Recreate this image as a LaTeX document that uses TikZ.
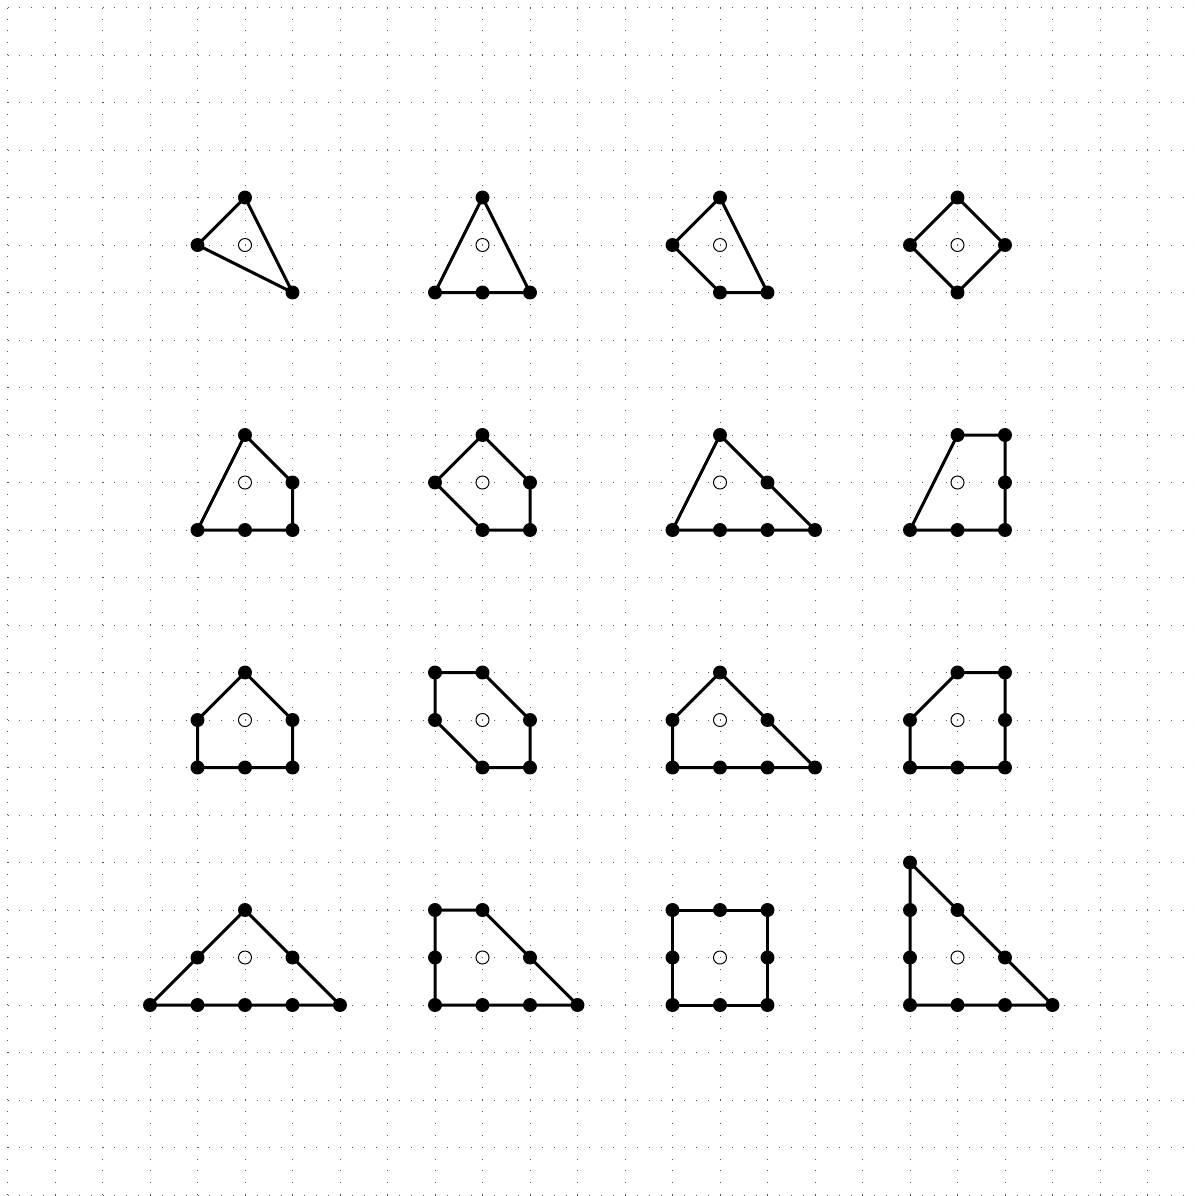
\documentclass[tikz,border=0pt]{standalone}
\usepackage{tikz}
\usetikzlibrary{calc}
\tikzset{
  gridline/.style={line width=0.5pt, black!65, dash pattern=on 0.5pt off 6.613pt},
  edge/.style={line width=1.8pt, line join=round, black},
  vtx/.style={fill=black},
  centre/.style={draw, circle, line width=0.6pt, minimum size=0.274cm, inner sep=0pt}
}
% one lattice polygon: #1,#2 centre, #3 boundary points x/y in order
\newcommand{\reflpoly}[3]{%
  \begin{scope}[shift={(#1,#2)}]
    \node[centre] at (0,0) {};
    \draw[edge] (0,1) \foreach \x/\y in {#3} {-- (\x,\y)} -- cycle;
    \foreach \x/\y in {#3} \fill[vtx] (\x,\y) circle (0.147);
  \end{scope}}

\begin{document}
\begin{tikzpicture}
    \useasboundingbox (-0.158,0.158) rectangle (25.0,-25.021);
    \draw[gridline] (0,0) grid (25,-25);
    % first row
    \reflpoly{5}{-5}{0/1,-1/0,1/-1}
    \reflpoly{10}{-5}{0/1,-1/-1,0/-1,1/-1}
    \reflpoly{15}{-5}{0/1,-1/0,0/-1,1/-1}
    \reflpoly{20}{-5}{0/1,1/0,0/-1,-1/0}
    % second row
    \reflpoly{5}{-10}{0/1,1/0,1/-1,0/-1,-1/-1}
    \reflpoly{10}{-10}{0/1,1/0,1/-1,0/-1,-1/0}
    \reflpoly{15}{-10}{0/1,1/0,2/-1,1/-1,0/-1,-1/-1}
    \reflpoly{20}{-10}{0/1,1/1,1/0,1/-1,0/-1,-1/-1}
    % third row
    \reflpoly{5}{-15}{0/1,1/0,1/-1,0/-1,-1/-1,-1/0}
    \reflpoly{10}{-15}{0/1,1/0,1/-1,0/-1,-1/0,-1/1}
    \reflpoly{15}{-15}{0/1,1/0,2/-1,1/-1,0/-1,-1/-1,-1/0}
    \reflpoly{20}{-15}{0/1,1/1,1/0,1/-1,0/-1,-1/-1,-1/0}
    % fourth row
    \reflpoly{5}{-20}{0/1,1/0,2/-1,1/-1,0/-1,-1/-1,-2/-1,-1/0}
    \reflpoly{10}{-20}{0/1,1/0,2/-1,1/-1,0/-1,-1/-1,-1/0,-1/1}
    \reflpoly{15}{-20}{0/1,1/1,1/0,1/-1,0/-1,-1/-1,-1/0,-1/1}
    \reflpoly{20}{-20}{0/1,1/0,2/-1,1/-1,0/-1,-1/-1,-1/0,-1/1,-1/2}
\end{tikzpicture}
\end{document}
